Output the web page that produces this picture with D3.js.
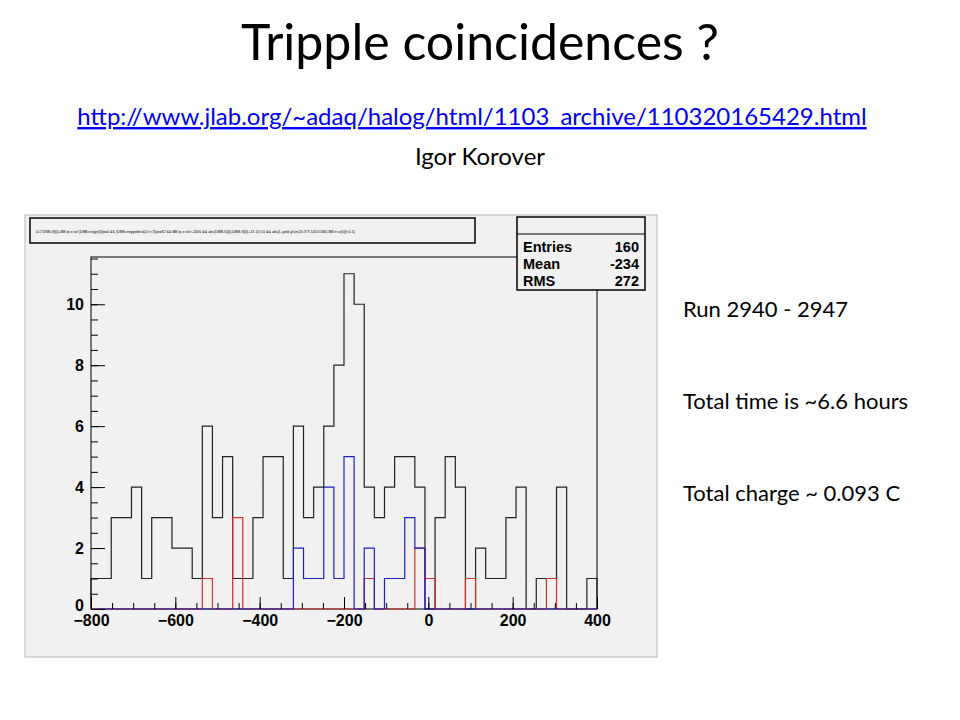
<!DOCTYPE html>
<html>
<head>
<meta charset="utf-8">
<script src="https://cdn.jsdelivr.net/npm/d3@7"></script>
<style>
  body { margin: 0; background: #fff; }
  svg text { font-family: Lato, "Open Sans", sans-serif; }
  svg text.root { font-family: "Liberation Sans", Arial, sans-serif; font-weight: bold; }
</style>
</head>
<body>
<svg id="chart" width="960" height="720"></svg>
<script>
"use strict";

// histogram range and bin counts (50 bins, -800 .. 400)
var xRange = [-800, 400];
var allCounts  = [1,1,3,3,4,1,3,3,2,2, 1,6,3,5,1,1,3,5,5,1, 6,3,4,6,8,11,10,4,3,4, 5,5,4,0,3,5,4,0,2,1, 1,3,4,0,1,1,4,0,0,1];
var redCounts  = [0,0,0,0,0,0,0,0,0,0, 0,1,0,0,3,0,0,0,0,0, 0,0,0,0,0,0,0,1,0,0, 0,0,2,1,0,0,0,1,0,0, 0,0,0,0,0,1,0,0,0,0];
var blueCounts = [0,0,0,0,0,0,0,0,0,0, 0,0,0,0,0,0,0,0,0,0, 2,1,1,4,1,5,0,2,0,1, 1,3,2,0,0,0,0,0,0,0, 0,0,0,0,0,0,0,0,0,0];
var xTicks = [-800, -600, -400, -200, 0, 200, 400];
var yTicks = [0, 2, 4, 6, 8, 10];
var stats = [["Entries", "160"], ["Mean", "-234"], ["RMS", "272"]];
var notes = ["Run 2940 - 2947", "Total time is ~6.6 hours", "Total charge ~ 0.093 C"];
var cutText = "0.1*DBB.t3[0]+BB.tp.e.tof (DBB.evtypr[0]==0 && (DBB.evtypebits&(1<<3))==32 && BB.tp.e.tof>-2000  && abs(DBB.t1[0]-DBB.t3[0]+13.1)<10 && abs(L.gold.y/sin(20.3*3.1415/180)-BB.tr.vz[0])<0.1)";

var svg = d3.select("#chart");

// slide texts
svg.append("text").attr("x", 480).attr("y", 60).attr("text-anchor", "middle")
  .attr("font-size", 50).attr("fill", "#000").text("Tripple coincidences ?");
svg.append("text").attr("x", 472).attr("y", 125).attr("text-anchor", "middle")
  .attr("font-size", 24).attr("fill", "#0000ee").attr("text-decoration", "underline")
  .text("http://www.jlab.org/~adaq/halog/html/1103_archive/110320165429.html");
svg.append("text").attr("x", 480).attr("y", 165).attr("text-anchor", "middle")
  .attr("font-size", 24).attr("fill", "#000").text("Igor Korover");
svg.selectAll("text.note").data(notes).enter().append("text")
  .attr("class", "note").attr("x", 683).attr("y", function(d, i){ return 317 + i*92; })
  .attr("font-size", 22).attr("fill", "#000").text(function(d){ return d; });

// ROOT canvas
svg.append("rect").attr("x", 25).attr("y", 215).attr("width", 632).attr("height", 442)
  .attr("fill", "#f1f1f1").attr("stroke", "#b8b8b8");

var frame = {left: 91, right: 597, top: 257, bottom: 609};
var x = d3.scaleLinear().domain(xRange).range([frame.left, frame.right]);
var y = d3.scaleLinear().domain([0, 11.55]).range([frame.bottom, frame.top]);

var g = svg.append("g");
g.append("rect").attr("x", frame.left).attr("y", frame.top)
  .attr("width", frame.right - frame.left).attr("height", frame.bottom - frame.top)
  .attr("fill", "#f1f1f1").attr("stroke", "#000").attr("stroke-width", 1);

var binW = (xRange[1] - xRange[0]) / allCounts.length;
function stepPath(counts) {
  var pts = [[xRange[0], 0]];
  counts.forEach(function(c, i){
    pts.push([xRange[0] + i*binW, c]);
    pts.push([xRange[0] + (i+1)*binW, c]);
  });
  pts.push([xRange[1], 0]);
  return d3.line().x(function(d){ return x(d[0]); }).y(function(d){ return y(d[1]); })(pts);
}
[[allCounts, "#222"], [redCounts, "#d03030"], [blueCounts, "#2020c0"]].forEach(function(s){
  g.append("path").attr("d", stepPath(s[0])).attr("fill", "none")
    .attr("stroke", s[1]).attr("stroke-width", 1.2);
});

// axes
var xAxis = d3.axisBottom(x).tickValues(xTicks).tickSize(-12).tickPadding(6).tickFormat(d3.format("d"));
var xMinor = d3.axisBottom(x).tickValues(d3.range(-800, 401, 50)).tickSize(-6).tickFormat("");
var yAxis = d3.axisLeft(y).tickValues(yTicks).tickSize(-14).tickPadding(7);
var yMinor = d3.axisLeft(y).tickValues(d3.range(0, 11.6, 0.5)).tickSize(-7).tickFormat("");
[xMinor, xAxis].forEach(function(a){
  g.append("g").attr("transform", "translate(0," + frame.bottom + ")").call(a);
});
[yMinor, yAxis].forEach(function(a){
  g.append("g").attr("transform", "translate(" + frame.left + ",0)").call(a);
});
g.selectAll(".domain").remove();
g.selectAll(".tick line").attr("stroke", "#000");
g.selectAll(".tick text").attr("class", "root").attr("font-size", 16).attr("fill", "#000");
// lift the y "0" a little so it clears the "-800" label
g.selectAll(".tick text").filter(function(d){ return d === 0 && this.getAttribute("x") < 0; })
  .attr("dy", "0.1em");

// cut title box
svg.append("rect").attr("x", 30).attr("y", 218).attr("width", 445).attr("height", 25)
  .attr("fill", "#f1f1f1").attr("stroke", "#000").attr("stroke-width", 1.5);
svg.append("text").attr("class", "root").attr("x", 36).attr("y", 233).attr("font-size", 3.7)
  .style("font-weight", "normal").text(cutText);

// stats box
var sb = svg.append("g");
sb.append("rect").attr("x", 517).attr("y", 217).attr("width", 128).attr("height", 73)
  .attr("fill", "#f1f1f1").attr("stroke", "#000").attr("stroke-width", 1.5);
sb.append("line").attr("x1", 517).attr("x2", 645).attr("y1", 234).attr("y2", 234).attr("stroke", "#000");
stats.forEach(function(s, i){
  sb.append("text").attr("class", "root").attr("x", 523).attr("y", 252 + i*17).attr("font-size", 14.5).text(s[0]);
  sb.append("text").attr("class", "root").attr("x", 639).attr("y", 252 + i*17).attr("font-size", 14.5)
    .attr("text-anchor", "end").text(s[1]);
});
</script>
</body>
</html>
